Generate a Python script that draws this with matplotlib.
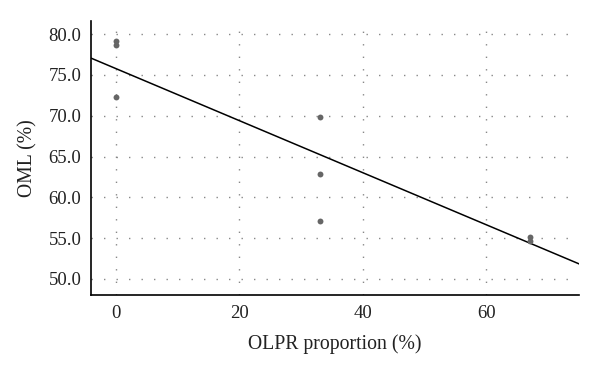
import matplotlib
matplotlib.use("Agg")
import matplotlib.pyplot as plt
import numpy as np

# data
olpr = [0, 0, 0, 33, 33, 33, 67, 67]
oml = [79.1, 78.6, 72.3, 69.8, 62.9, 57.1, 55.1, 54.7]
fit_x = [-4, 75]
fit_intercept = 75.78
fit_slope = -0.319

xticks = [0, 20, 40, 60]
yticks = [50.0, 55.0, 60.0, 65.0, 70.0, 75.0, 80.0]

plt.rcParams['font.family'] = ['Liberation Serif', 'DejaVu Serif']

fig = plt.figure(figsize=(6, 3.72), dpi=100)
ax = fig.add_axes([91/600, 1 - 295/372, (579-91)/600, (295-21)/372])

ax.grid(True, color='#888888', linestyle=(0, (1, 8)), linewidth=1.0)
ax.set_axisbelow(True)

fx = np.array(fit_x)
ax.plot(fx, fit_intercept + fit_slope * fx, color='black', linewidth=1.1)
ax.scatter(olpr, oml, s=18, color='#666666', zorder=3, linewidths=0)

ax.set_xlim(-4, 75)
ax.set_ylim(48.04, 81.6)
ax.set_xticks(xticks)
ax.set_yticks(yticks)
ax.set_yticklabels([f'{v:.1f}' for v in yticks])
ax.tick_params(length=0, labelsize=13.5, colors='#222222', pad=7)

for s in ['top', 'right']:
    ax.spines[s].set_visible(False)
for s in ['left', 'bottom']:
    ax.spines[s].set_linewidth(1.2)

ax.set_xlabel('OLPR proportion (%)', fontsize=14.2, color='#222222', labelpad=9)
ax.set_ylabel('OML (%)', fontsize=14.2, color='#222222', labelpad=8)

fig.savefig('out.png', dpi=100)
